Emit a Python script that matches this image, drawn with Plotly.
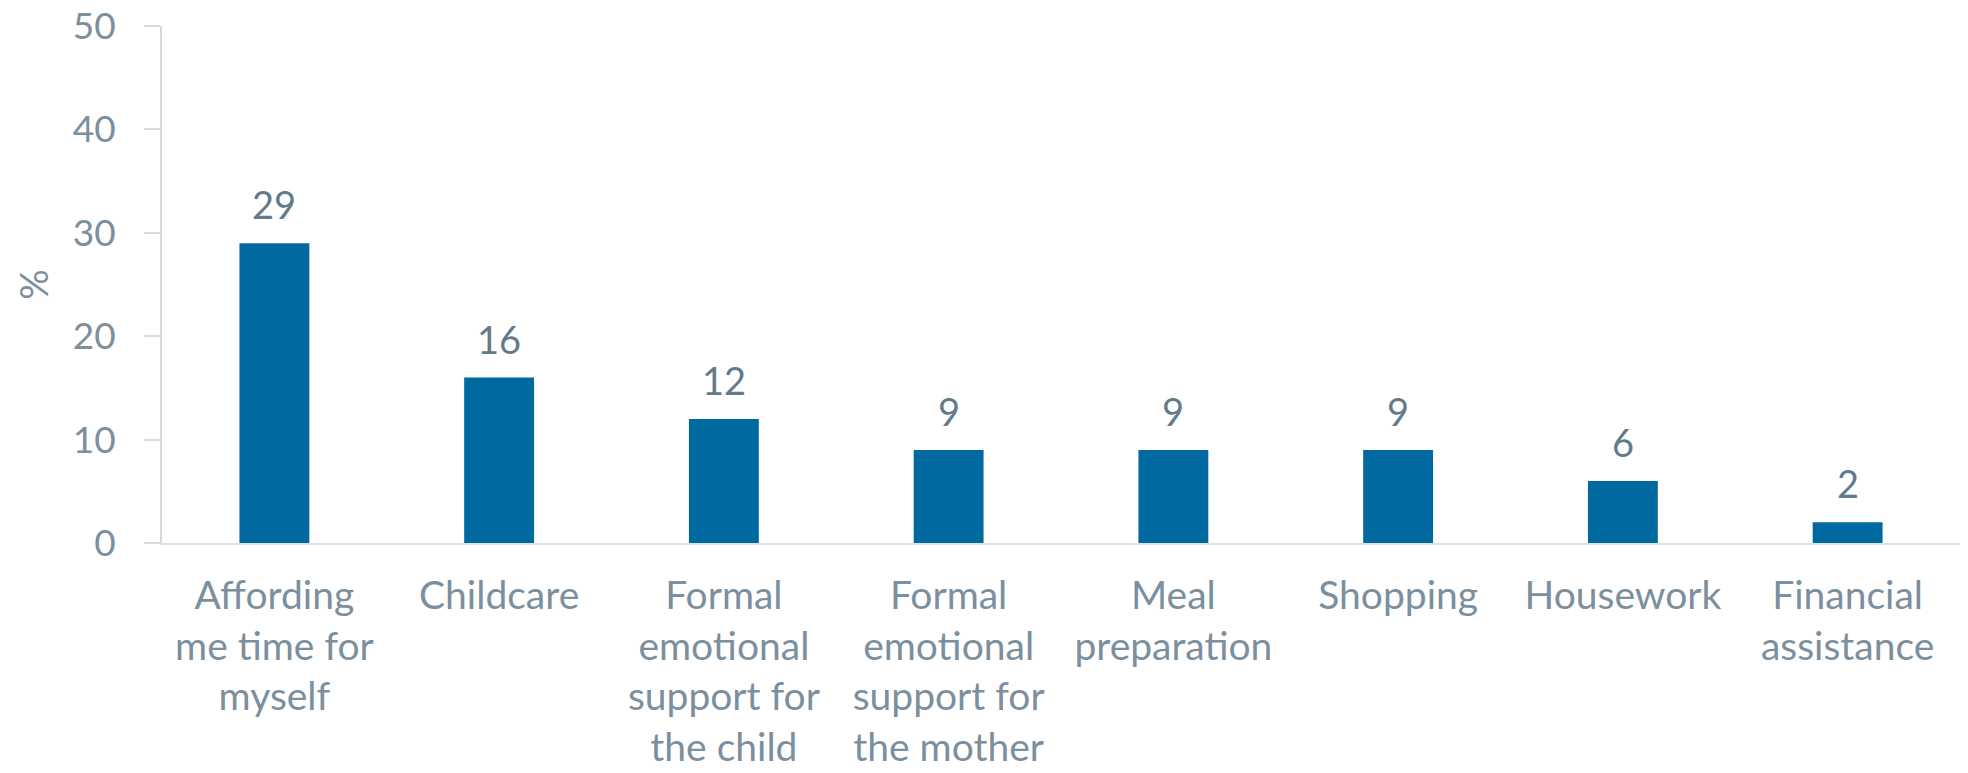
import plotly.graph_objects as go

# Share of respondents naming each type of help (%)
categories = [
    "Affording<br>me time for<br>myself",
    "Childcare",
    "Formal<br>emotional<br>support for<br>the child",
    "Formal<br>emotional<br>support for<br>the mother",
    "Meal<br>preparation",
    "Shopping",
    "Housework",
    "Financial<br>assistance",
]
values = [29, 16, 12, 9, 9, 9, 6, 2]
y_ticks = [0, 10, 20, 30, 40, 50]

BAR_COLOR = "#006aa0"
TEXT_COLOR = "#7b8f9e"
LABEL_COLOR = "#637a8a"
AXIS_COLOR = "#d9d9d9"
FONT = "Lato, 'Open Sans', sans-serif"

fig = go.Figure(
    go.Bar(
        x=categories,
        y=values,
        marker=dict(color=BAR_COLOR, line=dict(width=0)),
        hoverinfo="x+y",
    )
)

# value labels sitting above each bar
for cat, val in zip(categories, values):
    fig.add_annotation(
        x=cat, y=val, text=str(val), showarrow=False,
        yanchor="bottom", yshift=14,
        font=dict(family=FONT, size=38, color=LABEL_COLOR),
    )

fig.update_layout(
    width=1968, height=773,
    margin=dict(l=162, r=8, t=26, b=230),
    paper_bgcolor="white", plot_bgcolor="white",
    bargap=0.689,
    showlegend=False,
    font=dict(family=FONT, color=TEXT_COLOR),
)

fig.update_xaxes(
    automargin=False,
    showline=True, linecolor="#dde2e6", linewidth=2,
    showgrid=False, ticks="", zeroline=False,
    tickfont=dict(family=FONT, size=39, color=TEXT_COLOR),
    ticklabelstandoff=17,
)

fig.update_yaxes(
    automargin=False,
    range=[0, 50], tickvals=y_ticks,
    showline=True, linecolor=AXIS_COLOR, linewidth=2,
    ticks="outside", ticklen=16, tickwidth=2, tickcolor=AXIS_COLOR,
    showgrid=False, zeroline=False,
    tickfont=dict(family=FONT, size=37, color=TEXT_COLOR),
    ticklabelstandoff=21,
    title=dict(text="%", font=dict(family=FONT, size=38, color=TEXT_COLOR), standoff=12),
)

fig.write_html("out.html")
